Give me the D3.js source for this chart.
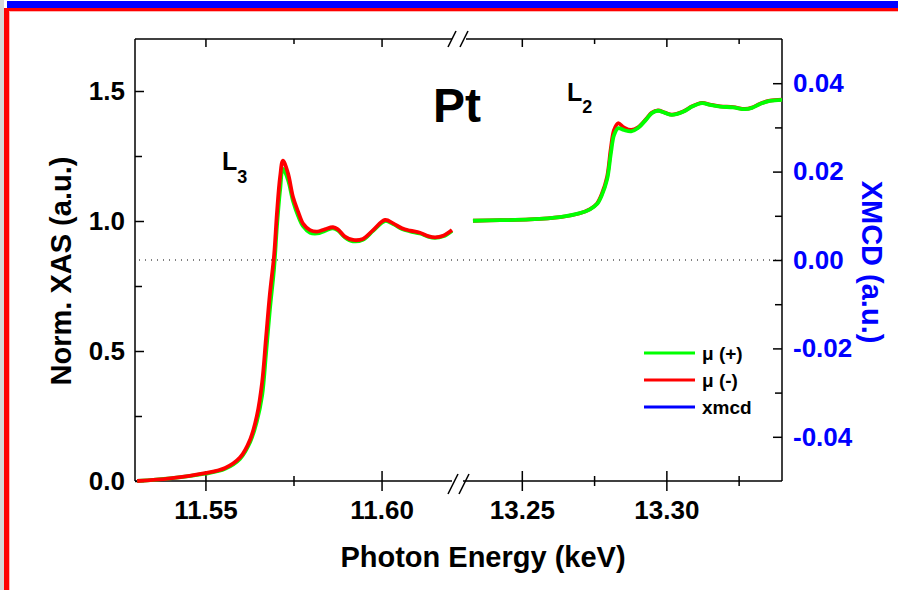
<!DOCTYPE html>
<html>
<head>
<meta charset="utf-8">
<script src="https://cdn.jsdelivr.net/npm/d3@7"></script>
<style>
  body { margin: 0; background: #fff; }
  svg { display: block; font-family: "Liberation Sans", Arial, sans-serif; font-weight: bold; }
</style>
</head>
<body>
<div id="chart"></div>
<script>
// L3 edge (keV) and normalized absorption
const energyL3 = [11.5306, 11.5399, 11.5499, 11.5556, 11.5598, 11.5627, 11.5646, 11.5661, 11.5672, 11.5683,
  11.5695, 11.5703, 11.5712, 11.5720, 11.5734, 11.5749, 11.5763, 11.5777, 11.5797, 11.5817,
  11.5839, 11.5862, 11.5876, 11.5896, 11.5919, 11.5947, 11.5976, 11.6010, 11.6033, 11.6058,
  11.6081, 11.6109, 11.6132, 11.6152, 11.6175, 11.6200];
const muMinusL3 = [0.0, 0.01, 0.03, 0.05, 0.09, 0.16, 0.25, 0.38, 0.55, 0.72,
  0.87, 1.03, 1.17, 1.232, 1.185, 1.09, 1.036, 0.99, 0.965, 0.959,
  0.968, 0.976, 0.968, 0.94, 0.927, 0.931, 0.965, 1.004, 0.991, 0.972,
  0.963, 0.955, 0.942, 0.937, 0.943, 0.965];
const muPlusL3 = [0.0, 0.01, 0.028, 0.047, 0.085, 0.15, 0.23, 0.33, 0.49, 0.66,
  0.82, 0.98, 1.12, 1.20, 1.16, 1.075, 1.02, 0.98, 0.955, 0.952,
  0.962, 0.972, 0.964, 0.937, 0.922, 0.928, 0.962, 1.0, 0.988, 0.969,
  0.96, 0.952, 0.94, 0.935, 0.941, 0.962];

// L2 edge
const energyL2 = [13.2331, 13.2425, 13.2528, 13.2632, 13.2701, 13.2736, 13.2760, 13.2777, 13.2795, 13.2808,
  13.2819, 13.2833, 13.2853, 13.2878, 13.2902, 13.2930, 13.2950, 13.2971, 13.2995, 13.3019,
  13.3058, 13.3089, 13.3123, 13.3151, 13.3186, 13.3231, 13.3272, 13.3296, 13.3324, 13.3358, 13.3400];
const muPlusL2 = [1.001, 1.003, 1.006, 1.015, 1.03, 1.045, 1.065, 1.10, 1.16, 1.26,
  1.33, 1.357, 1.35, 1.345, 1.358, 1.39, 1.415, 1.424, 1.416, 1.408,
  1.42, 1.44, 1.453, 1.447, 1.44, 1.437, 1.43, 1.435, 1.45, 1.462, 1.466];
const muMinusL2 = [1.001, 1.003, 1.006, 1.015, 1.03, 1.046, 1.067, 1.105, 1.17, 1.28,
  1.35, 1.376, 1.36, 1.35, 1.36, 1.392, 1.417, 1.425, 1.417, 1.409,
  1.421, 1.441, 1.454, 1.448, 1.441, 1.438, 1.431, 1.436, 1.451, 1.463, 1.467];

const xTicksL3 = [11.55, 11.60];
const xMinorL3 = [11.575];
const xTicksL2 = [13.25, 13.30];
const xMinorL2 = [13.275, 13.325];
const yTicks = [0.0, 0.5, 1.0, 1.5];
const yMinor = [0.25, 0.75, 1.25];
const y2Ticks = [-0.04, -0.02, 0.0, 0.02, 0.04];
const y2Minor = [-0.03, -0.01, 0.01, 0.03];
const seriesNames = ["\u03bc (+)", "\u03bc (-)", "xmcd"];

const width = 898, height = 590;
const svg = d3.select("#chart").append("svg")
  .attr("width", width).attr("height", height);

// window frame
svg.append("rect").attr("x", 0).attr("y", 0).attr("width", 4).attr("height", height).attr("fill", "#d6d6d6");
svg.append("rect").attr("x", 7).attr("y", 1).attr("width", width - 7).attr("height", 7).attr("fill", "#0000ff");
svg.append("rect").attr("x", 4).attr("y", 8).attr("width", width - 4).attr("height", 3).attr("fill", "#ff0000");
svg.append("rect").attr("x", 9).attr("y", 11).attr("width", width - 9).attr("height", 1).attr("fill", "#ffb4b4");
svg.append("rect").attr("x", 4).attr("y", 8).attr("width", 5).attr("height", height - 8).attr("fill", "#ff0000");
svg.append("rect").attr("x", 9).attr("y", 12).attr("width", 1).attr("height", height - 12).attr("fill", "#ffb4b4");

// scales
const pLeft = 135, pRight = 782, pTop = 39, pBottom = 481;
const xL = d3.scaleLinear().domain([11.53, 11.62]).range([pLeft, 452]);
const xR = d3.scaleLinear().domain([13.23, 13.34]).range([464, pRight]);
const y = d3.scaleLinear().domain([0, 1.7]).range([pBottom, pTop]);
const y2 = d3.scaleLinear().domain([-0.05, 0.05]).range([pBottom, pTop]);

const tickFont = 26;

function styleAxis(g, color) {
  g.select(".domain").remove();
  g.selectAll(".tick line").attr("stroke", "#000").attr("stroke-width", 1.5);
  g.selectAll("text").attr("fill", color || "#000");
  g.attr("font-family", "Liberation Sans, Arial, sans-serif").attr("font-size", tickFont).attr("font-weight", "bold");
}

// left axis
svg.append("g").attr("transform", `translate(${pLeft},0)`)
  .call(d3.axisLeft(y).tickValues(yTicks).tickSize(-9).tickPadding(10).tickFormat(d => d.toFixed(1)))
  .call(g => styleAxis(g));
svg.append("g").attr("transform", `translate(${pLeft},0)`)
  .call(d3.axisLeft(y).tickValues(yMinor).tickSize(-7).tickFormat(""))
  .call(g => styleAxis(g));

// right axis
svg.append("g").attr("transform", `translate(${pRight},0)`)
  .call(d3.axisRight(y2).tickValues(y2Ticks).tickSize(-9).tickPadding(11).tickFormat(d => d.toFixed(2)))
  .call(g => styleAxis(g, "#0000ff"));
svg.append("g").attr("transform", `translate(${pRight},0)`)
  .call(d3.axisRight(y2).tickValues(y2Minor).tickSize(-7).tickFormat(""))
  .call(g => styleAxis(g));

// bottom axes (ticks cross the line) and top ticks
[[xL, xTicksL3, xMinorL3], [xR, xTicksL2, xMinorL2]].forEach(([sc, major, minor]) => {
  svg.append("g").attr("transform", `translate(0,${pBottom})`)
    .call(d3.axisBottom(sc).tickValues(major).tickSize(10).tickPadding(10).tickFormat(d => d.toFixed(2)))
    .call(g => styleAxis(g))
    .call(g => g.selectAll(".tick line").attr("y1", -10));
  svg.append("g").attr("transform", `translate(0,${pBottom})`)
    .call(d3.axisBottom(sc).tickValues(minor).tickSize(5).tickFormat(""))
    .call(g => styleAxis(g))
    .call(g => g.selectAll(".tick line").attr("y1", -5));
  svg.append("g").attr("transform", `translate(0,${pTop})`)
    .call(d3.axisTop(sc).tickValues(major).tickSize(-8).tickFormat(""))
    .call(g => styleAxis(g));
  svg.append("g").attr("transform", `translate(0,${pTop})`)
    .call(d3.axisTop(sc).tickValues(minor).tickSize(-5).tickFormat(""))
    .call(g => styleAxis(g));
});

// frame lines with break
const frame = svg.append("g").attr("stroke", "#000").attr("stroke-width", 1.5).attr("fill", "none");
frame.append("line").attr("x1", pLeft).attr("x2", pLeft).attr("y1", pTop).attr("y2", pBottom);
frame.append("line").attr("x1", pRight).attr("x2", pRight).attr("y1", pTop).attr("y2", pBottom);
frame.append("line").attr("x1", pLeft).attr("x2", 452).attr("y1", pTop).attr("y2", pTop);
frame.append("line").attr("x1", 466).attr("x2", pRight).attr("y1", pTop).attr("y2", pTop);
frame.append("line").attr("x1", pLeft).attr("x2", 452).attr("y1", pBottom).attr("y2", pBottom);
frame.append("line").attr("x1", 463).attr("x2", pRight).attr("y1", pBottom).attr("y2", pBottom);
[[452, pTop, 8], [464, pTop, 8], [453, pBottom + 3, 10], [464, pBottom + 3, 10]].forEach(([cx, cy, h]) => {
  frame.append("line").attr("x1", cx - h / 2).attr("y1", cy + h).attr("x2", cx + h / 2).attr("y2", cy - h);
});

// xmcd zero line
svg.append("line").attr("x1", pLeft + 4).attr("x2", pRight).attr("y1", y2(0)).attr("y2", y2(0))
  .attr("stroke", "#000").attr("stroke-width", 1).attr("stroke-dasharray", "1,5");

// curves
const lineL3 = d3.line().x((d, i) => xL(energyL3[i])).y(d => y(d)).curve(d3.curveCatmullRom.alpha(0.5));
const lineL2 = d3.line().x((d, i) => xR(energyL2[i])).y(d => y(d)).curve(d3.curveCatmullRom.alpha(0.5));
const curves = svg.append("g").attr("fill", "none").attr("stroke-width", 3.8).attr("stroke-linejoin", "round");
curves.append("path").attr("d", lineL3(muPlusL3)).attr("stroke", "#00ff00");
curves.append("path").attr("d", lineL3(muMinusL3)).attr("stroke", "#ff0000");
curves.append("path").attr("d", lineL2(muMinusL2)).attr("stroke", "#ff0000");
curves.append("path").attr("d", lineL2(muPlusL2)).attr("stroke", "#00ff00");

// annotations
svg.append("text").attr("x", 457).attr("y", 122).attr("text-anchor", "middle")
  .attr("font-size", 48).text("Pt");
const l3 = svg.append("text").attr("x", 222).attr("y", 170).attr("font-size", 25);
l3.append("tspan").text("L");
l3.append("tspan").attr("dy", 13).attr("font-size", 18).text("3");
const l2 = svg.append("text").attr("x", 567).attr("y", 101).attr("font-size", 25);
l2.append("tspan").text("L");
l2.append("tspan").attr("dy", 12).attr("font-size", 18).text("2");

// axis titles
svg.append("text").attr("transform", `translate(71,271) rotate(-90)`)
  .attr("text-anchor", "middle").attr("font-size", 29).text("Norm. XAS (a.u.)");
svg.append("text").attr("transform", `translate(862,262) rotate(90)`)
  .attr("text-anchor", "middle").attr("font-size", 29).attr("fill", "#0000ff").text("XMCD (a.u.)");
svg.append("text").attr("x", 483).attr("y", 567).attr("text-anchor", "middle")
  .attr("font-size", 29).text("Photon Energy (keV)");

// legend
const legendColors = ["#00ff00", "#ff0000", "#0000ff"];
const legend = svg.append("g").attr("transform", "translate(644,353)");
seriesNames.forEach((name, i) => {
  legend.append("line").attr("x1", 0).attr("x2", 51).attr("y1", i * 27).attr("y2", i * 27)
    .attr("stroke", legendColors[i]).attr("stroke-width", 3);
  legend.append("text").attr("x", 58).attr("y", i * 27 + 7).attr("font-size", 19).text(name);
});
</script>
</body>
</html>
